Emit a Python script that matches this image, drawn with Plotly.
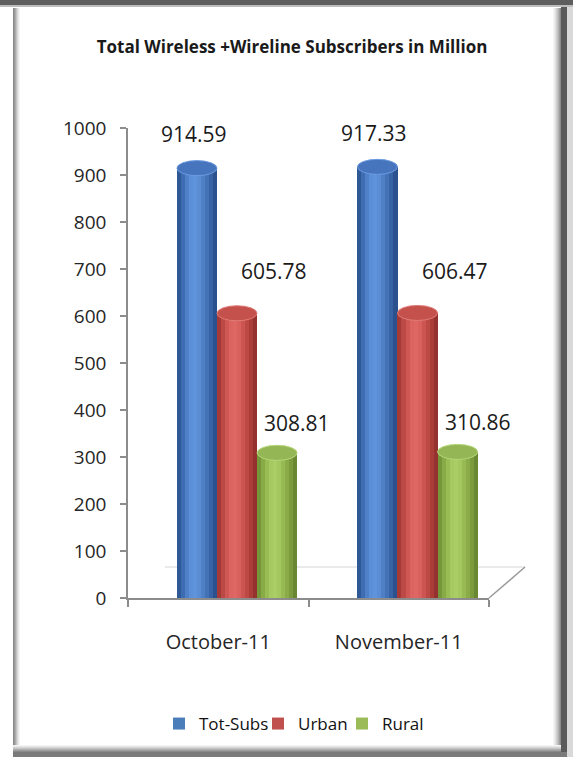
import plotly.graph_objects as go

# ---------------- data ----------------
categories = ["October-11", "November-11"]
series_names = ["Tot-Subs", "Urban", "Rural"]
tot_subs = [914.59, 917.33]
urban = [605.78, 606.47]
rural = [308.81, 310.86]
series_values = [tot_subs, urban, rural]
y_ticks = [0, 100, 200, 300, 400, 500, 600, 700, 800, 900, 1000]
title_text = "Total Wireless +Wireline Subscribers in Million"

# ---------------- styles ----------------
W, H = 573, 757
ML, MR, MT, MB = 128, 84, 128, 159
PW, PH = W - ML - MR, H - MT - MB

# cylinder shading, left -> right
profiles = [
    ["#2f5896", "#3e6cb3", "#4f80c8", "#5b8fd8", "#5f94dc", "#5a8dd4", "#4f80c6", "#4372b6", "#3763a4", "#2b528e"],
    ["#a53935", "#bb4945", "#cf5854", "#dc6460", "#df6763", "#d9615d", "#cc5551", "#bd4945", "#ab3d39", "#95322f"],
    ["#76963a", "#88aa47", "#99bd55", "#a6ca61", "#aace65", "#a4c75f", "#98ba54", "#8aab48", "#7b9b3d", "#6a8732"],
]
legend_colors = ["#4a7ebb", "#c0504d", "#9bbb59"]
legend_widths = [54, 39, 40]
top_fill = ["#4675bd", "#c5514d", "#94b655"]
top_line = ["#6d9be0", "#e07c78", "#b6d67a"]

bar_w = 0.222
offsets = [-0.229, -0.229 + bar_w, -0.229 + 2 * bar_w]
label_xshift = [-3, 37, 20]
label_yshift = [34, 42, 30]

NS = len(profiles[0])
sw = bar_w / NS

fig = go.Figure()
for i, (name, vals) in enumerate(zip(series_names, series_values)):
    for k in range(NS):
        fig.add_trace(go.Bar(
            x=categories, y=vals, name=name,
            offset=offsets[i] + k * sw, width=sw * 1.08,
            marker=dict(color=profiles[i][k], line=dict(width=0)),
            showlegend=False, hoverinfo="skip",
        ))
    # legend entry
    fig.add_trace(go.Bar(
        x=[categories[0]], y=[None], name=name,
        marker=dict(color=legend_colors[i], line=dict(width=0)),
        showlegend=True, legendwidth=legend_widths[i],
    ))

shapes = []
annotations = []
# cylinder tops + labels
for i, vals in enumerate(series_values):
    for ci, v in enumerate(vals):
        x0 = ci + offsets[i]
        x1 = x0 + bar_w
        shapes.append(dict(type="circle", xref="x", yref="y", x0=x0, x1=x1,
                           y0=v - 16, y1=v + 16, fillcolor=top_fill[i],
                           line=dict(color=top_line[i], width=1), layer="above"))
        annotations.append(dict(x=(x0 + x1) / 2, y=v, xref="x", yref="y",
                                text=f"{v:.2f}", showarrow=False,
                                yanchor="middle", xanchor="center",
                                xshift=label_xshift[i], yshift=label_yshift[i],
                                font=dict(family="Open Sans", size=21, color="#1a1a1a")))


def px_x(p):
    return (p - ML) / PW


def px_y(p):
    return (H - MB - p) / PH


def prect(x0, y0, x1, y1, color, layer="below"):
    shapes.append(dict(type="rect", xref="paper", yref="paper",
                       x0=px_x(x0), x1=px_x(x1), y0=px_y(y1), y1=px_y(y0),
                       fillcolor=color, line=dict(width=0), layer=layer))


def pline(x0, y0, x1, y1, color, width=1.2, layer="below"):
    shapes.append(dict(type="line", xref="paper", yref="paper",
                       x0=px_x(x0), x1=px_x(x1), y0=px_y(y0), y1=px_y(y1),
                       line=dict(color=color, width=width), layer=layer))


# 3D floor
pline(165, 567, 525, 567, "#d6d6d6", 1.2)
pline(489, 598, 525, 567, "#9a9a9a", 1.5)

# frame
prect(0, 0, W, 5, "#5e5e5e")
prect(0, 5, W, 7, "#bdbdbd")
left_grad = ["#888888", "#999999", "#adadad", "#c3c3c3", "#d8d8d8", "#e9e9e9", "#f5f5f5"]
for j, c in enumerate(left_grad):
    prect(13 + j, 8, 14 + j, 750, c)
right_grad = ["#f6f6f6", "#ececec", "#e0e0e0", "#d2d2d2", "#c3c3c3", "#b2b2b2", "#a0a0a0", "#8c8c8c"]
for j, c in enumerate(right_grad):
    prect(553 + j, 8, 554 + j, 750, c)
prect(561, 7, 567, 752, "#5a5a5a")
prect(567, 7, 573, 757, "#d9d9d9")
bottom_grad = ["#f4f4f4", "#e6e6e6", "#d6d6d6", "#c4c4c4", "#b0b0b0", "#9c9c9c", "#8a8a8a"]
for j, c in enumerate(bottom_grad):
    prect(13, 745 + j, 561, 746 + j, c)
prect(13, 752, 567, 757, "#7a7a7a")

fig.update_layout(
    width=W, height=H,
    margin=dict(l=ML, r=MR, t=MT, b=MB, pad=0),
    paper_bgcolor="white", plot_bgcolor="rgba(0,0,0,0)",
    barmode="overlay", bargap=0,
    title=dict(text=f"<b>{title_text}</b>", x=px_x(292), xref="paper", xanchor="center",
               y=1 - 47 / H, yref="container", yanchor="middle",
               font=dict(family="Open Sans", size=17, color="#1a1a1a")),
    shapes=shapes, annotations=annotations,
    showlegend=True,
    legend=dict(orientation="h", x=px_x(159), xanchor="left", y=px_y(724), yanchor="middle",
                font=dict(family="Open Sans", size=17, color="#111111"),
                itemwidth=30, traceorder="normal", bgcolor="rgba(0,0,0,0)"),
    xaxis=dict(type="category", range=[-0.5, 1.5], showgrid=False, zeroline=False,
               showline=True, linecolor="#8c8c8c", linewidth=1.5,
               ticks="outside", tickson="boundaries", ticklen=7, tickcolor="#8c8c8c",
               tickwidth=1.5, ticklabelstandoff=25,
               tickfont=dict(family="Open Sans", size=20, color="#262626")),
    yaxis=dict(range=[0, 1000], tickvals=y_ticks, showgrid=False, zeroline=False,
               showline=True, linecolor="#8c8c8c", linewidth=1.5,
               ticks="outside", ticklen=6, tickcolor="#8c8c8c", tickwidth=1.5,
               ticklabelstandoff=10,
               tickfont=dict(family="Open Sans", size=19, color="#262626")),
)

fig.write_html("out.html", config={"displayModeBar": False},
               post_script="document.body.style.margin='0';")
